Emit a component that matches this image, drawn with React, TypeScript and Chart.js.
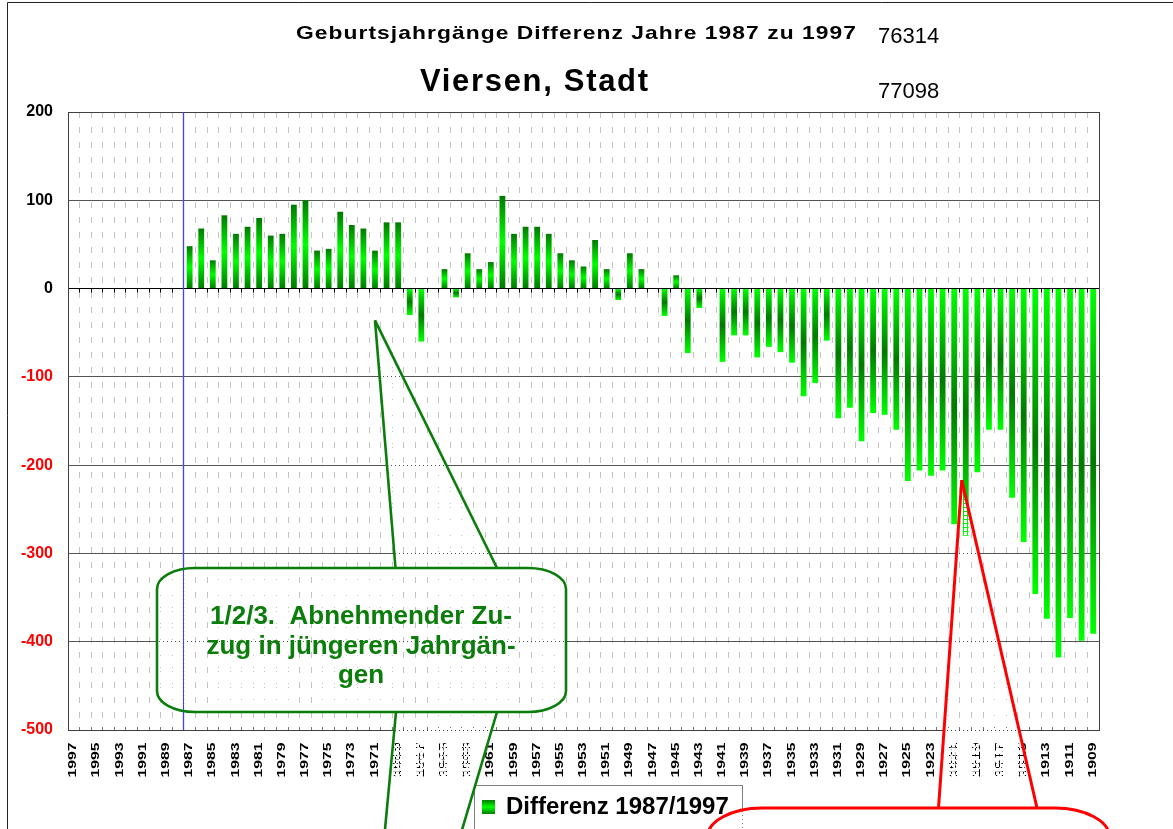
import React, { useEffect, useRef } from 'react';
import { Chart, registerables } from 'chart.js';

Chart.register(...registerables);

// ---------------- data ----------------
const YEARS: string[] = [
  '1997', '1996', '1995', '1994', '1993', '1992', '1991', '1990', '1989', '1988',
  '1987', '1986', '1985', '1984', '1983', '1982', '1981', '1980', '1979', '1978',
  '1977', '1976', '1975', '1974', '1973', '1972', '1971', '1970', '1969', '1968',
  '1967', '1966', '1965', '1964', '1963', '1962', '1961', '1960', '1959', '1958',
  '1957', '1956', '1955', '1954', '1953', '1952', '1951', '1950', '1949', '1948',
  '1947', '1946', '1945', '1944', '1943', '1942', '1941', '1940', '1939', '1938',
  '1937', '1936', '1935', '1934', '1933', '1932', '1931', '1930', '1929', '1928',
  '1927', '1926', '1925', '1924', '1923', '1922', '1921', '1920', '1919', '1918',
  '1917', '1916', '1915', '1914', '1913', '1912', '1911', '1910', '1909',
];

const DIFF: (number | null)[] = [
  // 1997 - 1988
  null, null, null, null, null, null, null, null, null, null,
  // 1987 - 1978
  48, 68, 32, 83, 62, 70, 80, 60, 62, 95,
  // 1977 - 1968
  100, 43, 45, 87, 72, 68, 43, 75, 75, -30,
  // 1967 - 1958
  -60, 0, 22, -10, 40, 22, 30, 105, 62, 70,
  // 1957 - 1948
  70, 62, 40, 32, 25, 55, 22, -13, 40, 22,
  // 1947 - 1938
  0, -31, 15, -73, -22, 0, -83, -53, -53, -78,
  // 1937 - 1928
  -66, -72, -84, -122, -107, -59, -147, -135, -173, -141,
  // 1927 - 1918
  -143, -160, -218, -206, -212, -206, -267, -280, -208, -160,
  // 1917 - 1909
  -160, -237, -287, -346, -374, -418, -373, -399, -391,
];

const Y_MIN = -500;
const Y_MAX = 200;
const Y_STEP = 100;

const TITLE = 'Geburtsjahrgänge Differenz Jahre 1987 zu 1997';
const SUBTITLE = 'Viersen, Stadt';
const CODE_TOP = '76314';
const CODE_SUB = '77098';
const SERIES_LABEL = 'Differenz 1987/1997';
const NOTE_LINES = ['1/2/3.  Abnehmender Zu-', 'zug in jüngeren Jahrgän-', 'gen'];
const MARK_YEAR = '1987';
const NOTE_TIP = { year: '1971', value: -36 };
const RED_TIP = { year: '1920', value: -217 };

// ---------------- styles ----------------
const FONT = "'Liberation Sans', Arial, Helvetica, sans-serif";
const DARK = '#007a00';
const BRIGHT = '#00ff00';
const NOTE_GREEN = '#0a7d0a';

function barGradient(ctx: CanvasRenderingContext2D, yA: number, yB: number, positive: boolean) {
  const top = Math.min(yA, yB);
  const bot = Math.max(yA, yB) + 0.01;
  const g = ctx.createLinearGradient(0, top, 0, bot);
  if (positive) {
    g.addColorStop(0, DARK);
    g.addColorStop(0.5, BRIGHT);
    g.addColorStop(1, DARK);
  } else {
    g.addColorStop(0, BRIGHT);
    g.addColorStop(0.5, DARK);
    g.addColorStop(1, BRIGHT);
  }
  return g;
}

// draws text starting at `left`, stretched by hScale and letter-spaced to fill `width`
function fitText(
  ctx: CanvasRenderingContext2D, text: string, left: number, baseline: number,
  font: string, width: number, color: string, hScale = 1,
) {
  ctx.save();
  ctx.font = font;
  ctx.fillStyle = color;
  ctx.textAlign = 'left';
  ctx.textBaseline = 'alphabetic';
  (ctx as any).letterSpacing = '0px';
  const w0 = ctx.measureText(text).width;
  const n = Array.from(text).length;
  const sp = n > 1 ? (width / hScale - w0) / (n - 1) : 0;
  (ctx as any).letterSpacing = `${sp}px`;
  ctx.translate(left, baseline);
  ctx.scale(hScale, 1);
  ctx.fillText(text, 0, 0);
  (ctx as any).letterSpacing = '0px';
  ctx.restore();
}

function makePattern(ctx: CanvasRenderingContext2D) {
  const c = document.createElement('canvas');
  c.width = 4;
  c.height = 4;
  const p = c.getContext('2d')!;
  p.fillStyle = '#ffffff';
  p.fillRect(0, 0, 4, 4);
  p.clearRect(0, 3, 4, 1);
  p.clearRect(3, 0, 1, 4);
  return ctx.createPattern(c, 'repeat') || '#ffffff';
}

function roundBox(ctx: CanvasRenderingContext2D, x: number, y: number, w: number, h: number, rx: number, ry: number) {
  ctx.beginPath();
  ctx.moveTo(x + rx, y);
  ctx.lineTo(x + w - rx, y);
  ctx.ellipse(x + w - rx, y + ry, rx, ry, 0, -Math.PI / 2, 0);
  ctx.lineTo(x + w, y + h - ry);
  ctx.ellipse(x + w - rx, y + h - ry, rx, ry, 0, 0, Math.PI / 2);
  ctx.lineTo(x + rx, y + h);
  ctx.ellipse(x + rx, y + h - ry, rx, ry, 0, Math.PI / 2, Math.PI);
  ctx.lineTo(x, y + ry);
  ctx.ellipse(x + rx, y + ry, rx, ry, 0, Math.PI, Math.PI * 1.5);
  ctx.closePath();
}

function line(ctx: CanvasRenderingContext2D, x1: number, y1: number, x2: number, y2: number) {
  ctx.beginPath();
  ctx.moveTo(x1, y1);
  ctx.lineTo(x2, y2);
  ctx.stroke();
}

const decorPlugin = {
  id: 'decor',
  beforeDraw(chart: any) {
    const ctx: CanvasRenderingContext2D = chart.ctx;
    ctx.save();
    ctx.fillStyle = '#ffffff';
    ctx.fillRect(0, 0, chart.width, chart.height);
    // outer frame
    ctx.strokeStyle = '#222222';
    ctx.lineWidth = 1;
    ctx.beginPath();
    ctx.moveTo(7.5, chart.height);
    ctx.lineTo(7.5, 2.5);
    ctx.lineTo(chart.width, 2.5);
    ctx.stroke();
    // titles
    fitText(ctx, TITLE, 296, 38.5, `bold 19px ${FONT}`, 560, '#000', 1.2);
    fitText(ctx, SUBTITLE, 420, 90.5, `bold 31px ${FONT}`, 228, '#000');
    ctx.font = `22px ${FONT}`;
    ctx.fillStyle = '#000';
    ctx.textAlign = 'left';
    ctx.textBaseline = 'alphabetic';
    ctx.fillText(CODE_TOP, 878, 42.5);
    ctx.fillText(CODE_SUB, 878, 97.5);
    ctx.restore();
  },
  beforeDatasetsDraw(chart: any) {
    const ctx: CanvasRenderingContext2D = chart.ctx;
    const a = chart.chartArea;
    const xs = chart.scales.x;
    const ys = chart.scales.y;
    const half = (xs.getPixelForValue(1) - xs.getPixelForValue(0)) / 2;
    const first = xs.getPixelForValue(0) - half;
    ctx.save();
    ctx.lineWidth = 1;
    // small tick marks below the zero line and above the bottom border
    const y0 = Math.round(ys.getPixelForValue(0) - 0.5) + 0.5;
    ctx.strokeStyle = '#000000';
    for (let i = 0; i <= YEARS.length; i++) {
      const gx = Math.round(first + i * 2 * half - 0.5) + 0.5;
      line(ctx, gx, y0, gx, y0 + 4);
    }
    ctx.strokeStyle = '#777777';
    for (let i = 0; i <= YEARS.length; i++) {
      const gx = Math.round(first + i * 2 * half - 0.5) + 0.5;
      line(ctx, gx, a.bottom, gx, a.bottom - 3);
    }
    // plot frame
    ctx.strokeStyle = '#404040';
    ctx.strokeRect(Math.round(a.left - 0.5) + 0.5, Math.round(a.top - 0.5) + 0.5,
      Math.round(a.right - a.left), Math.round(a.bottom - a.top));
    // blue marker line before 1987
    const mi = YEARS.indexOf(MARK_YEAR);
    const bx = Math.round(xs.getPixelForValue(mi) - half - 0.5) + 0.5;
    ctx.strokeStyle = '#4040ff';
    ctx.lineWidth = 1.3;
    line(ctx, bx, a.top, bx, a.bottom);
    ctx.restore();
  },
  afterDraw(chart: any) {
    const ctx: CanvasRenderingContext2D = chart.ctx;
    const xs = chart.scales.x;
    const ys = chart.scales.y;
    ctx.save();
    // category labels (every second year), rotated
    ctx.font = `bold 11px ${FONT}`;
    ctx.fillStyle = '#000000';
    for (let i = 0; i < YEARS.length; i += 2) {
      const px = xs.getPixelForValue(i);
      const w0 = ctx.measureText(YEARS[i]).width;
      ctx.save();
      ctx.translate(px - 0.5, 742.5);
      ctx.rotate(-Math.PI / 2);
      ctx.scale(35 / w0, 1);
      ctx.textAlign = 'right';
      ctx.textBaseline = 'middle';
      ctx.fillText(YEARS[i], 0, 0);
      ctx.restore();
    }
    // legend
    ctx.strokeStyle = '#808080';
    ctx.lineWidth = 1;
    ctx.strokeRect(474.5, 785.5, 268, 60);
    ctx.fillStyle = barGradient(ctx, 800, 814, true);
    ctx.fillRect(482, 800, 13, 14);
    ctx.font = `bold 24px ${FONT}`;
    ctx.fillStyle = '#000000';
    ctx.textAlign = 'left';
    ctx.textBaseline = 'alphabetic';
    ctx.fillText(SERIES_LABEL, 506, 814);

    const pat = makePattern(ctx);

    // green callout: lower pointer band
    ctx.fillStyle = pat as any;
    ctx.beginPath();
    ctx.moveTo(396, 712);
    ctx.lineTo(497, 712);
    ctx.lineTo(459, 840);
    ctx.lineTo(384, 840);
    ctx.closePath();
    ctx.fill();
    // green callout: top pointer
    const gtx = xs.getPixelForValue(YEARS.indexOf(NOTE_TIP.year));
    const gty = ys.getPixelForValue(NOTE_TIP.value);
    ctx.beginPath();
    ctx.moveTo(395.5, 568);
    ctx.lineTo(gtx, gty);
    ctx.lineTo(497, 568);
    ctx.closePath();
    ctx.fill();
    roundBox(ctx, 157, 568, 409, 144, 38, 21);
    ctx.fill();
    ctx.strokeStyle = NOTE_GREEN;
    ctx.lineWidth = 2.6;
    ctx.stroke();
    line(ctx, 395.5, 568, gtx, gty);
    line(ctx, gtx, gty, 497, 568);
    line(ctx, 396, 712, 384, 840);
    line(ctx, 497, 712, 459, 840);
    ctx.font = `bold 26px ${FONT}`;
    ctx.fillStyle = NOTE_GREEN;
    ctx.textAlign = 'center';
    const baselines = [624, 654, 683];
    NOTE_LINES.forEach((t, k) => ctx.fillText(t, 361, baselines[k]));

    // red callout
    const rtx = xs.getPixelForValue(YEARS.indexOf(RED_TIP.year)) - 4;
    const rty = ys.getPixelForValue(RED_TIP.value);
    ctx.fillStyle = pat as any;
    ctx.beginPath();
    ctx.moveTo(938.5, 808);
    ctx.lineTo(rtx, rty);
    ctx.lineTo(1037, 808);
    ctx.closePath();
    ctx.fill();
    roundBox(ctx, 707, 808, 403, 80, 55, 30);
    ctx.fill();
    ctx.strokeStyle = '#ff0000';
    ctx.lineWidth = 3;
    ctx.stroke();
    line(ctx, 938.5, 808, rtx, rty);
    line(ctx, rtx, rty, 1037, 808);
    ctx.restore();
  },
};

export default function App() {
  const ref = useRef<HTMLCanvasElement | null>(null);

  useEffect(() => {
    const canvas = ref.current;
    if (!canvas) return;
    const chart = new Chart(canvas, {
      type: 'bar',
      data: {
        labels: YEARS,
        datasets: [
          {
            label: SERIES_LABEL,
            data: DIFF,
            borderWidth: 0,
            categoryPercentage: 1,
            barPercentage: 0.5,
            backgroundColor: (c: any) => {
              const ch = c.chart;
              const v = c.raw;
              if (c.type !== 'data' || v == null || !ch.scales || !ch.scales.y) return BRIGHT;
              const ys = ch.scales.y;
              return barGradient(ch.ctx, ys.getPixelForValue(0), ys.getPixelForValue(v), v >= 0);
            },
          },
        ],
      },
      options: {
        responsive: false,
        animation: false,
        devicePixelRatio: 1,
        layout: { padding: { left: 0, top: 112, right: 74, bottom: 39 } },
        plugins: {
          legend: { display: false },
          title: { display: false },
          tooltip: { enabled: false },
        },
        scales: {
          x: {
            type: 'category',
            offset: true,
            grid: { offset: true, color: '#c4c4c4', lineWidth: 1, drawTicks: false },
            border: { display: false, dash: [6, 9] },
            ticks: { display: false },
            afterFit: (s: any) => { s.height = 60; },
          },
          y: {
            min: Y_MIN,
            max: Y_MAX,
            ticks: {
              stepSize: Y_STEP,
              padding: 15,
              color: (c: any) => (c.tick && c.tick.value < 0 ? '#ff0000' : '#000000'),
              font: { family: FONT, size: 16, weight: 'bold' },
              callback: (v: any) => String(v),
            },
            grid: {
              color: (c: any) => (c.tick && c.tick.value === 0 ? '#000000' : '#555555'),
              lineWidth: 1,
              drawTicks: false,
            },
            border: { display: false },
            afterFit: (s: any) => { s.width = 68; },
          },
        },
      },
      plugins: [decorPlugin],
    } as any);
    return () => chart.destroy();
  }, []);

  return (
    <div style={{ position: 'absolute', left: 0, top: 0, width: 1173, height: 829, background: '#fff' }}>
      <canvas ref={ref} width={1173} height={829} style={{ display: 'block', width: 1173, height: 829 }} />
    </div>
  );
}
